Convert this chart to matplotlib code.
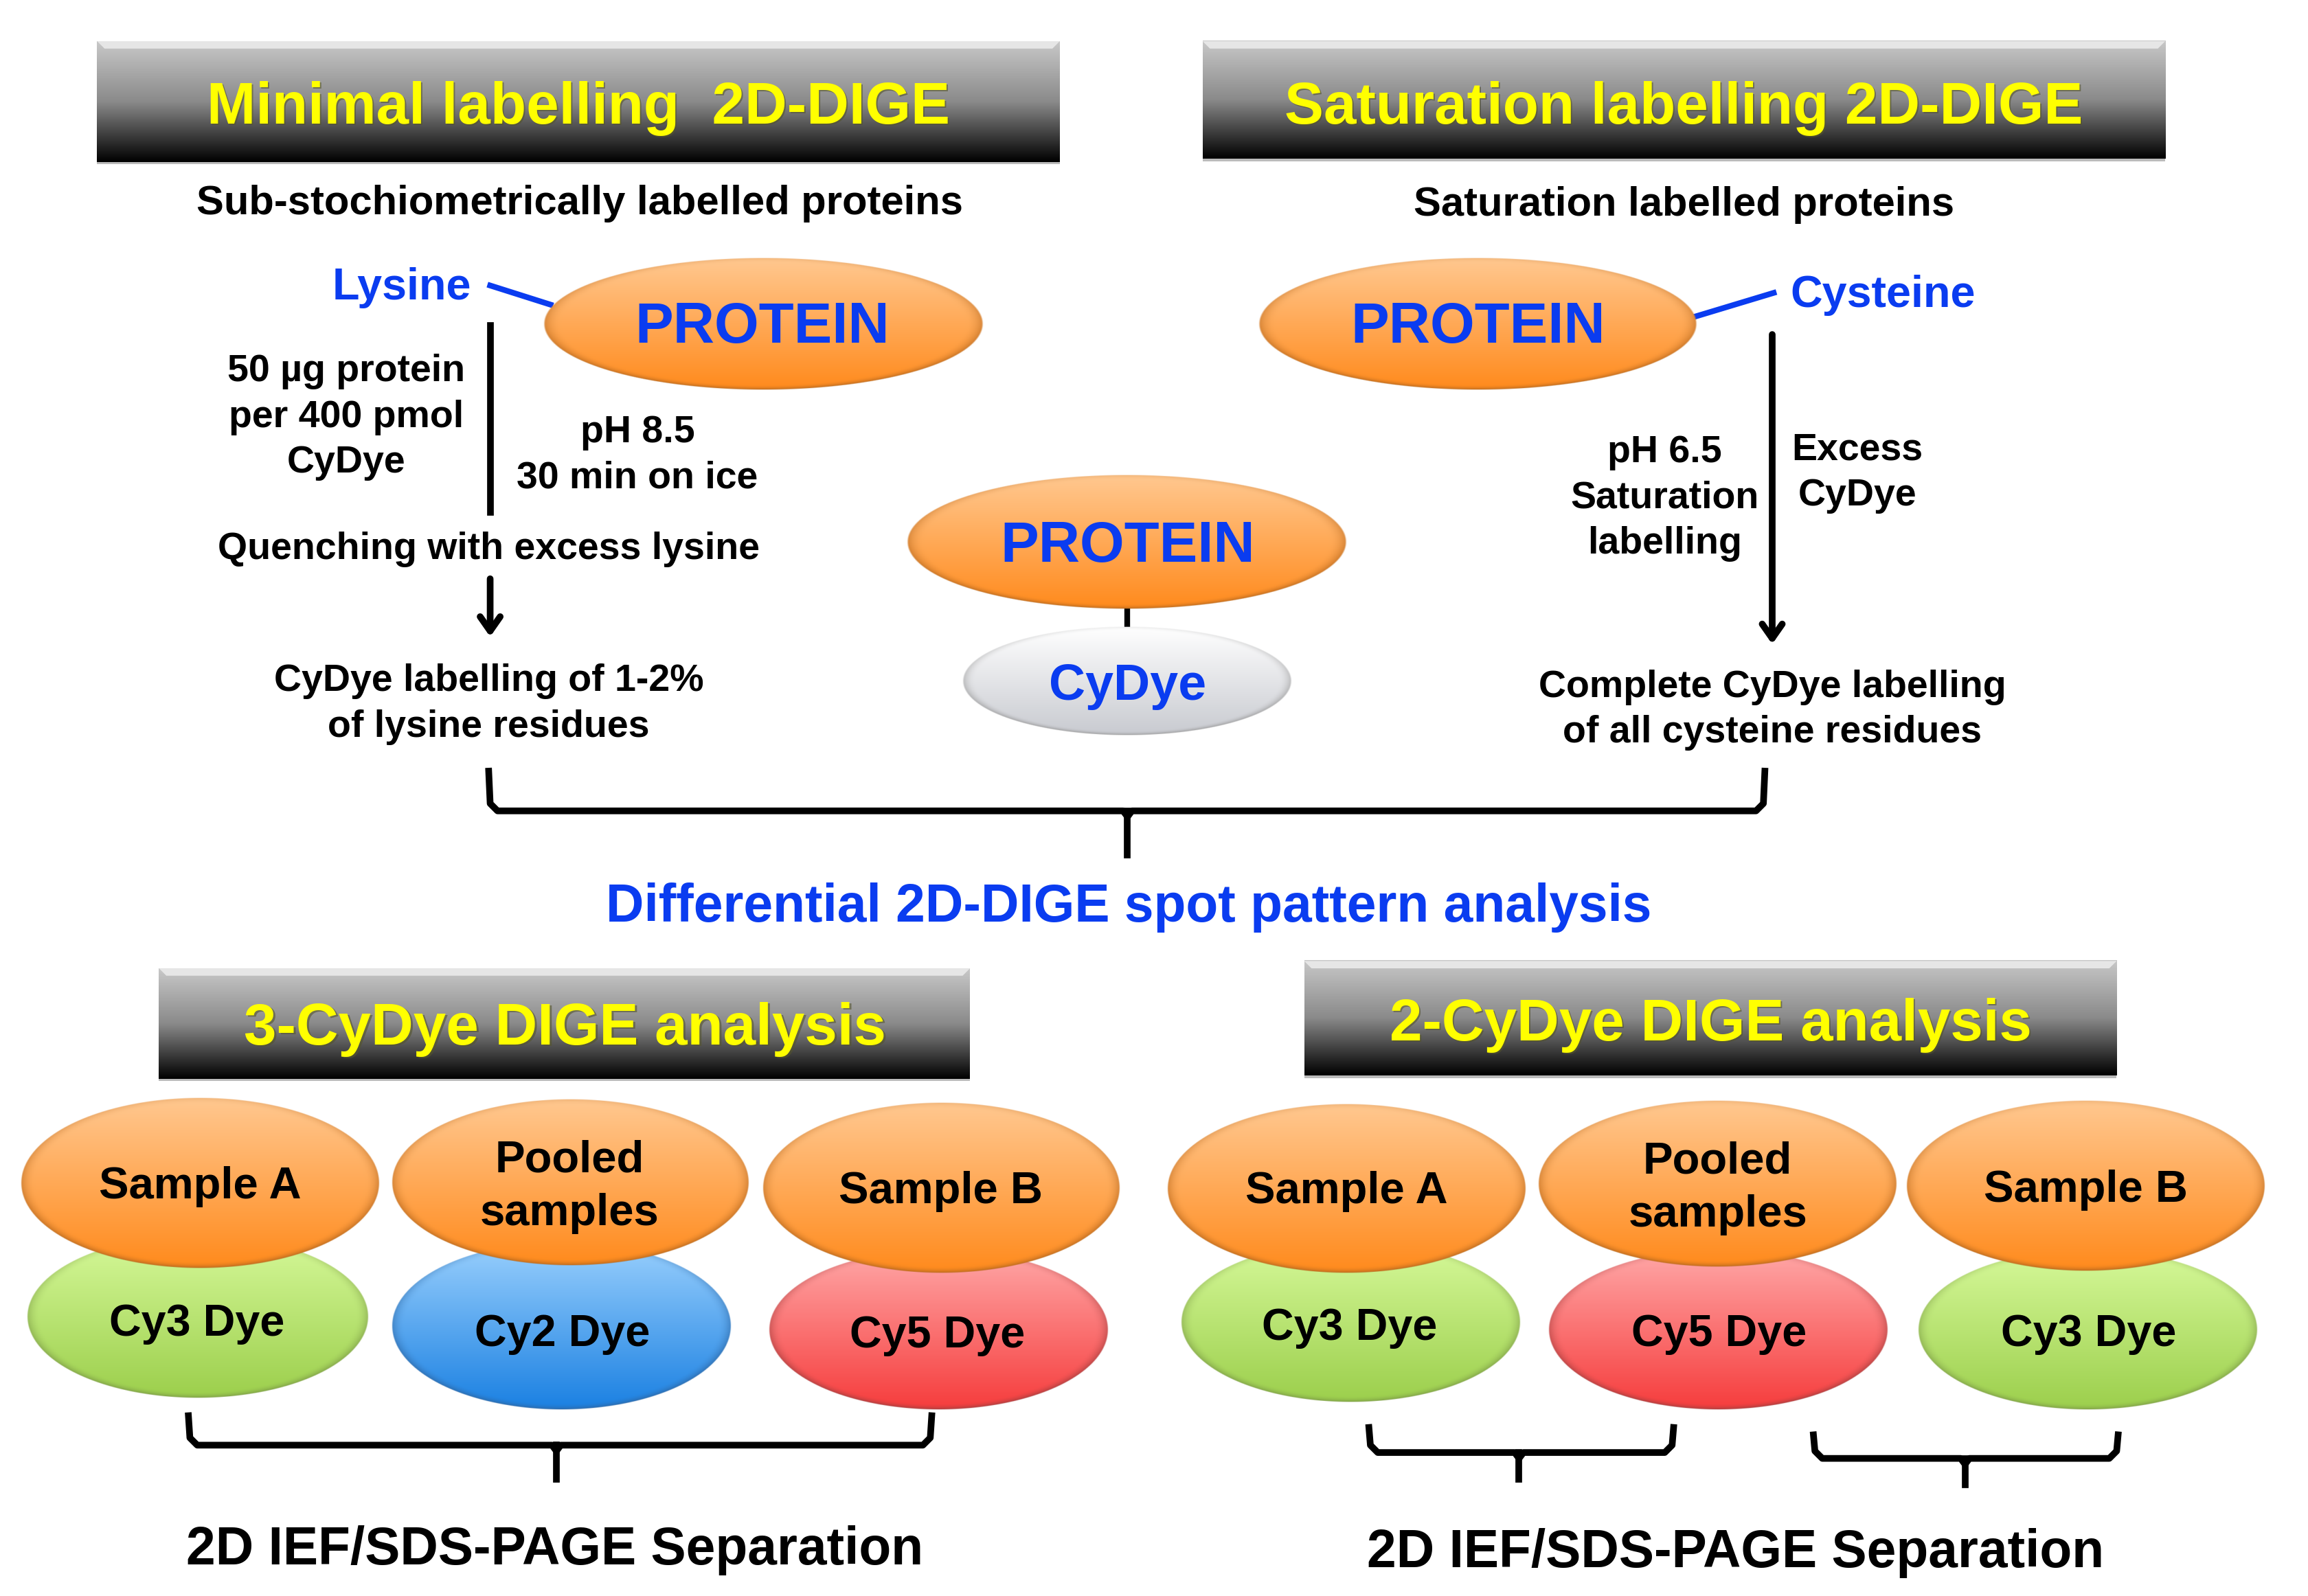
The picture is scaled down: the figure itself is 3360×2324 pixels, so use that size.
import numpy as np
import matplotlib
matplotlib.use("Agg")
import matplotlib.pyplot as plt
from matplotlib.colors import LinearSegmentedColormap, to_rgb
from matplotlib.patches import Rectangle, Polygon

plt.rcParams['font.family'] = ['Liberation Sans', 'DejaVu Sans']

HEADINGS = ["Minimal labelling  2D-DIGE", "Saturation labelling 2D-DIGE",
            "3-CyDye DIGE analysis", "2-CyDye DIGE analysis"]
SUBHEADS = ["Sub-stochiometrically labelled proteins", "Saturation labelled proteins"]
LEFT_NOTES = ["50 µg protein\nper 400 pmol\nCyDye", "pH 8.5\n30 min on ice",
              "Quenching with excess lysine", "CyDye labelling of 1-2%\nof lysine residues"]
RIGHT_NOTES = ["pH 6.5\nSaturation\nlabelling", "Excess\nCyDye",
               "Complete CyDye labelling\nof all cysteine residues"]
SAMPLES = ["Sample A", "Pooled\nsamples", "Sample B"]
DYES_3 = ["Cy3 Dye", "Cy2 Dye", "Cy5 Dye"]
DYES_2 = ["Cy3 Dye", "Cy5 Dye", "Cy3 Dye"]
MIDDLE_TITLE = "Differential 2D-DIGE spot pattern analysis"
SEPARATION = "2D IEF/SDS-PAGE Separation"

BLUE = "#0a3cf0"
ORANGE = ("#ffc890", "#ff8a1c", "#b86a20")
GRAY = ("#ffffff", "#c8cad0", "#9a9a9a")
GREEN = ("#d6f99a", "#9ccf4c", "#7f9f48")
SKY = ("#9ad0fd", "#1a80e2", "#2f6aa8")
RED = ("#ffa8a8", "#f63c3c", "#a84040")
ARROW = "->,head_length=1.5,head_width=1.05"


def oval(ax, x0, x1, y0, y1, colors, z=2):
    # soft bevelled ellipse, darker rim towards the bottom
    x0, x1, y0, y1 = x0 - 1, x1 + 1, y0 - 1, y1 + 1
    ny, nx = int((y1 - y0) * 3), int((x1 - x0) * 3)
    u, v = np.meshgrid(np.linspace(-1, 1, nx), np.linspace(-1, 1, ny))
    r = np.sqrt(u ** 2 + v ** 2)
    t = ((v + 1) / 2)[..., None]
    top, bottom, edge = [np.array(to_rgb(c)) for c in colors]
    col = top * (1 - t) + bottom * t
    rim = (np.clip((r - 0.92) / 0.08, 0, 1) ** 2)[..., None] * (0.2 + 0.8 * t)
    col = col * (1 - rim) + edge * rim
    alpha = np.clip((1 - r) * min(nx, ny) / 2, 0, 1)[..., None]
    ax.imshow(np.concatenate([col, alpha], axis=2), extent=(x0, x1, y1, y0),
              aspect="auto", zorder=z, interpolation="bilinear")


def bar(ax, x0, x1, y0, y1, label, cx, cy):
    cmap = LinearSegmentedColormap.from_list("g", ["#c8c8c8", "#8a8a8a", "#000000"])
    ax.imshow(np.linspace(0, 1, 256).reshape(-1, 1), cmap=cmap, extent=(x0, x1, y1, y0),
              aspect="auto", zorder=2, interpolation="bilinear")
    # bevel along the top and the sides
    ax.add_patch(Polygon([(x0, y0), (x1, y0), (x1 - 5, y0 + 5), (x0 + 5, y0 + 5)],
                         facecolor="#e6e6e6", edgecolor="none", zorder=2.1))
    ax.add_patch(Rectangle((x0, y1), x1 - x0, 1.5, facecolor="#bbbbbb", edgecolor="none", zorder=1.9))
    ax.text(cx + 1, cy + 2.5, label, color="#55552a", alpha=0.6, fontsize=61.5, fontweight="bold",
            ha="center", va="center", zorder=3)
    ax.text(cx, cy + 1.5, label, color="#ffff00", fontsize=61.5, fontweight="bold",
            ha="center", va="center", zorder=3.1)


def bracket(ax, x0, x1, xm, y0, y1, y2, lw=7):
    ax.plot([x0, x0 + 1, x0 + 6, xm - 3, xm, xm + 3, x1 - 6, x1 - 1, x1],
            [y0, y1 - 5, y1, y1, y1 + 4, y1, y1, y1 - 5, y0],
            color="black", lw=lw, solid_joinstyle="round", zorder=2)
    ax.plot([xm, xm], [y1, y2], color="black", lw=lw, zorder=2)


def note(ax, x, y, label, size=40, color="black", spacing=1.36):
    ax.text(x, y + 1.5, label, fontsize=size, fontweight="bold", color=color,
            ha="center", va="center", linespacing=spacing, zorder=5)


fig = plt.figure(figsize=(33.6, 23.24), dpi=100)
ax = fig.add_axes([0, 0, 1, 1])

# header bars
bar(ax, 66, 720, 28, 110, HEADINGS[0], 393, 72)
bar(ax, 817, 1471, 28, 108, HEADINGS[1], 1144, 72)
bar(ax, 108, 659, 658, 733, HEADINGS[2], 384, 698)
bar(ax, 886, 1438, 653, 731, HEADINGS[3], 1162, 695)

note(ax, 394, 137, SUBHEADS[0], size=43)
note(ax, 1144, 138, SUBHEADS[1], size=43)

# left branch
note(ax, 273, 194, "Lysine", size=46.5, color=BLUE)
ax.plot([333, 374], [194, 207], color=BLUE, lw=6, zorder=1)
oval(ax, 370, 667, 176, 264, ORANGE)
note(ax, 518, 221, "PROTEIN", size=60, color=BLUE)
ax.plot([333, 333], [221, 348], color="black", lw=7)
note(ax, 235, 282, LEFT_NOTES[0])
note(ax, 433, 308, LEFT_NOTES[1])
note(ax, 332, 372, LEFT_NOTES[2])
ax.annotate("", xy=(333, 434), xytext=(333, 392),
            arrowprops=dict(arrowstyle=ARROW, lw=7, color="black"))
note(ax, 332, 477, LEFT_NOTES[3])

# right branch
oval(ax, 856, 1152, 176, 264, ORANGE)
note(ax, 1004, 221, "PROTEIN", size=60, color=BLUE)
ax.plot([1152, 1205], [215, 199], color=BLUE, lw=6, zorder=1)
note(ax, 1279, 199, "Cysteine", size=46.5, color=BLUE)
ax.annotate("", xy=(1204, 439), xytext=(1204, 226),
            arrowprops=dict(arrowstyle=ARROW, lw=7, color="black"))
note(ax, 1131, 337, RIGHT_NOTES[0])
note(ax, 1262, 320, RIGHT_NOTES[1])
note(ax, 1204, 481, RIGHT_NOTES[2])

# centre
ax.plot([766, 766], [410, 430], color="black", lw=6, zorder=1)
oval(ax, 617, 914, 324, 413, ORANGE)
note(ax, 766, 370, "PROTEIN", size=60, color=BLUE)
oval(ax, 655, 877, 427, 499, GRAY)
note(ax, 766, 465, "CyDye", size=53, color=BLUE)

bracket(ax, 332, 1199, 766, 524, 551, 581)
note(ax, 767, 615, MIDDLE_TITLE, size=55.3, color=BLUE)

# 3-CyDye group
oval(ax, 19, 249, 840, 949, GREEN, z=2)
oval(ax, 267, 496, 845, 957, SKY, z=2)
oval(ax, 523, 752, 850, 957, RED, z=2)
oval(ax, 15, 257, 747, 861, ORANGE, z=3)
oval(ax, 267, 508, 748, 859, ORANGE, z=3)
oval(ax, 519, 760, 750, 864, ORANGE, z=3)
note(ax, 136, 805, SAMPLES[0], size=47)
note(ax, 387, 805, SAMPLES[1], size=47)
note(ax, 639, 808, SAMPLES[2], size=47)
note(ax, 134, 898, DYES_3[0], size=46.5)
note(ax, 382, 905, DYES_3[1], size=46.5)
note(ax, 637, 906, DYES_3[2], size=46.5)
bracket(ax, 128, 633, 378, 962, 982, 1005)
note(ax, 377, 1052, SEPARATION, size=55.3)

# 2-CyDye group
oval(ax, 803, 1032, 845, 952, GREEN, z=2)
oval(ax, 1053, 1282, 850, 957, RED, z=2)
oval(ax, 1304, 1533, 850, 957, GREEN, z=2)
oval(ax, 794, 1036, 751, 864, ORANGE, z=3)
oval(ax, 1046, 1288, 749, 860, ORANGE, z=3)
oval(ax, 1296, 1538, 749, 863, ORANGE, z=3)
note(ax, 915, 808, SAMPLES[0], size=47)
note(ax, 1167, 806, SAMPLES[1], size=47)
note(ax, 1417, 807, SAMPLES[2], size=47)
note(ax, 917, 901, DYES_2[0], size=46.5)
note(ax, 1168, 905, DYES_2[1], size=46.5)
note(ax, 1419, 905, DYES_2[2], size=46.5)
bracket(ax, 930, 1137, 1032, 970, 987, 1005)
bracket(ax, 1232, 1439, 1335, 975, 991, 1009)
note(ax, 1179, 1054, SEPARATION, size=55.3)

# imshow resets the limits, so set them last
ax.set_xlim(0, 1568)
ax.set_ylim(1084.5, 0)
ax.axis("off")
fig.savefig("out.png", dpi=100)
plt.close()
